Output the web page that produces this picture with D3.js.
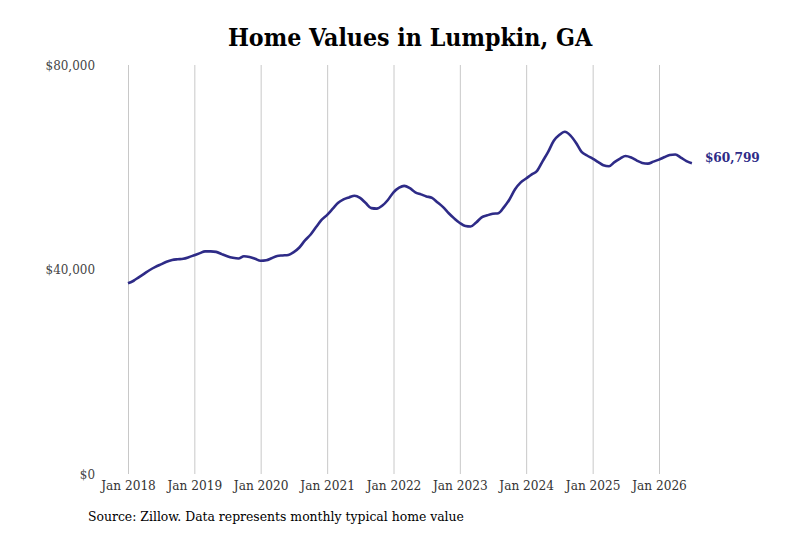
<!DOCTYPE html>
<html>
<head>
<meta charset="utf-8">
<script src="https://cdn.jsdelivr.net/npm/d3@7"></script>
<style>
  body { margin: 0; background: #fff; }
  svg text { font-family: "DejaVu Serif Condensed", "DejaVu Serif", serif; }
</style>
</head>
<body>
<script>
/* monthly typical home value, Jan 2018 onwards */
var startMonth = "2018-01"
var values = [
  37300, 37800, 38470, 39200, 39900, 40500, 41000, 41500, 41850, 42000, 42100, 42400,
  42800, 43200, 43550, 43550, 43450, 43000, 42600, 42300, 42150, 42600, 42450, 42100,
  41700, 41800, 42200, 42650, 42750, 42850, 43400, 44300, 45700, 46800, 48300, 49700,
  50700, 51900, 53000, 53700, 54100, 54440, 54000, 53000, 52000, 51900, 52500, 53600,
  55100, 56000, 56350, 55900, 55100, 54700, 54300, 54000, 53100, 52200, 51000, 50000,
  49100, 48500, 48400, 49200, 50200, 50600, 50900, 51000, 52200, 53700, 55700, 57000,
  57800, 58600, 59300, 61200, 63000, 65200, 66300, 66950, 66200, 64800, 63000, 62300,
  61700, 61000, 60400, 60200, 61000, 61700, 62200, 61900, 61300, 60850, 60700, 61100,
  61500, 62000, 62400, 62500, 61900, 61200, 60799
]
var yTicks = [0, 40000, 80000]
var xTickYears = [2018, 2019, 2020, 2021, 2022, 2023, 2024, 2025, 2026]

var title = "Home Values in Lumpkin, GA"
var source = "Source: Zillow. Data represents monthly typical home value"

var width = 800, height = 533
var lineColor = "#2e2b87"

var parseMonth = d3.timeParse("%Y-%m")
var start = parseMonth(startMonth)
var data = values.map(function(v, i) {
  return {date: d3.timeMonth.offset(start, i), value: v}
})

var x = d3.scaleTime()
  .domain([new Date(2018, 0, 1), new Date(2026, 0, 1)])
  .range([128, 659])

var y = d3.scaleLinear()
  .domain([0, 80000])
  .range([474, 65])

var svg = d3.select("body")
  .append("svg")
  .attr("width", width)
  .attr("height", height)

/* title */
svg.append("text")
  .attr("x", 410)
  .attr("y", 46)
  .attr("text-anchor", "middle")
  .attr("font-size", 24.7)
  .attr("font-weight", "bold")
  .attr("fill", "#000")
  .text(title)

/* vertical grid lines + x labels */
var xAxis = d3.axisBottom(x)
  .tickValues(xTickYears.map(function(yr) { return new Date(yr, 0, 1) }))
  .tickFormat(d3.timeFormat("Jan %Y"))
  .tickSize(0)
  .tickPadding(6)

var gx = svg.append("g")
  .attr("transform", "translate(0," + 474 + ")")
  .call(xAxis)
gx.select(".domain").remove()
gx.selectAll("text")
  .attr("font-size", 13.5)
  .attr("fill", "#333")
  .style("font-family", '"DejaVu Serif Condensed", "DejaVu Serif", serif')
gx.selectAll(".tick")
  .append("line")
  .attr("y1", 0)
  .attr("y2", y(80000) - 474)
  .attr("stroke", "#c8c8c8")
  .attr("stroke-width", 1)

/* y labels */
var yAxis = d3.axisLeft(y)
  .tickValues(yTicks)
  .tickFormat(function(d) { return "$" + d3.format(",")(d) })
  .tickSize(0)
  .tickPadding(0)

var gy = svg.append("g")
  .attr("transform", "translate(95,0)")
  .call(yAxis)
gy.select(".domain").remove()
gy.selectAll("text")
  .attr("font-size", 13.3)
  .attr("fill", "#444")
  .style("font-family", '"DejaVu Serif Condensed", "DejaVu Serif", serif')

/* the line */
var line = d3.line()
  .x(function(d) { return x(d.date) })
  .y(function(d) { return y(d.value) })
  .curve(d3.curveMonotoneX)

svg.append("path")
  .datum(data)
  .attr("fill", "none")
  .attr("stroke", lineColor)
  .attr("stroke-width", 2.6)
  .attr("stroke-linejoin", "round")
  .attr("d", line)

/* end label */
var last = data[data.length - 1]
svg.append("text")
  .attr("x", x(last.date) + 13)
  .attr("y", y(last.value))
  .attr("dy", "-0.1em")
  .attr("font-size", 13.5)
  .attr("font-weight", "bold")
  .attr("fill", lineColor)
  .text("$" + d3.format(",")(last.value))

/* source note */
svg.append("text")
  .attr("x", 88)
  .attr("y", 521)
  .attr("font-size", 13.8)
  .attr("fill", "#000")
  .text(source)
</script>
</body>
</html>
